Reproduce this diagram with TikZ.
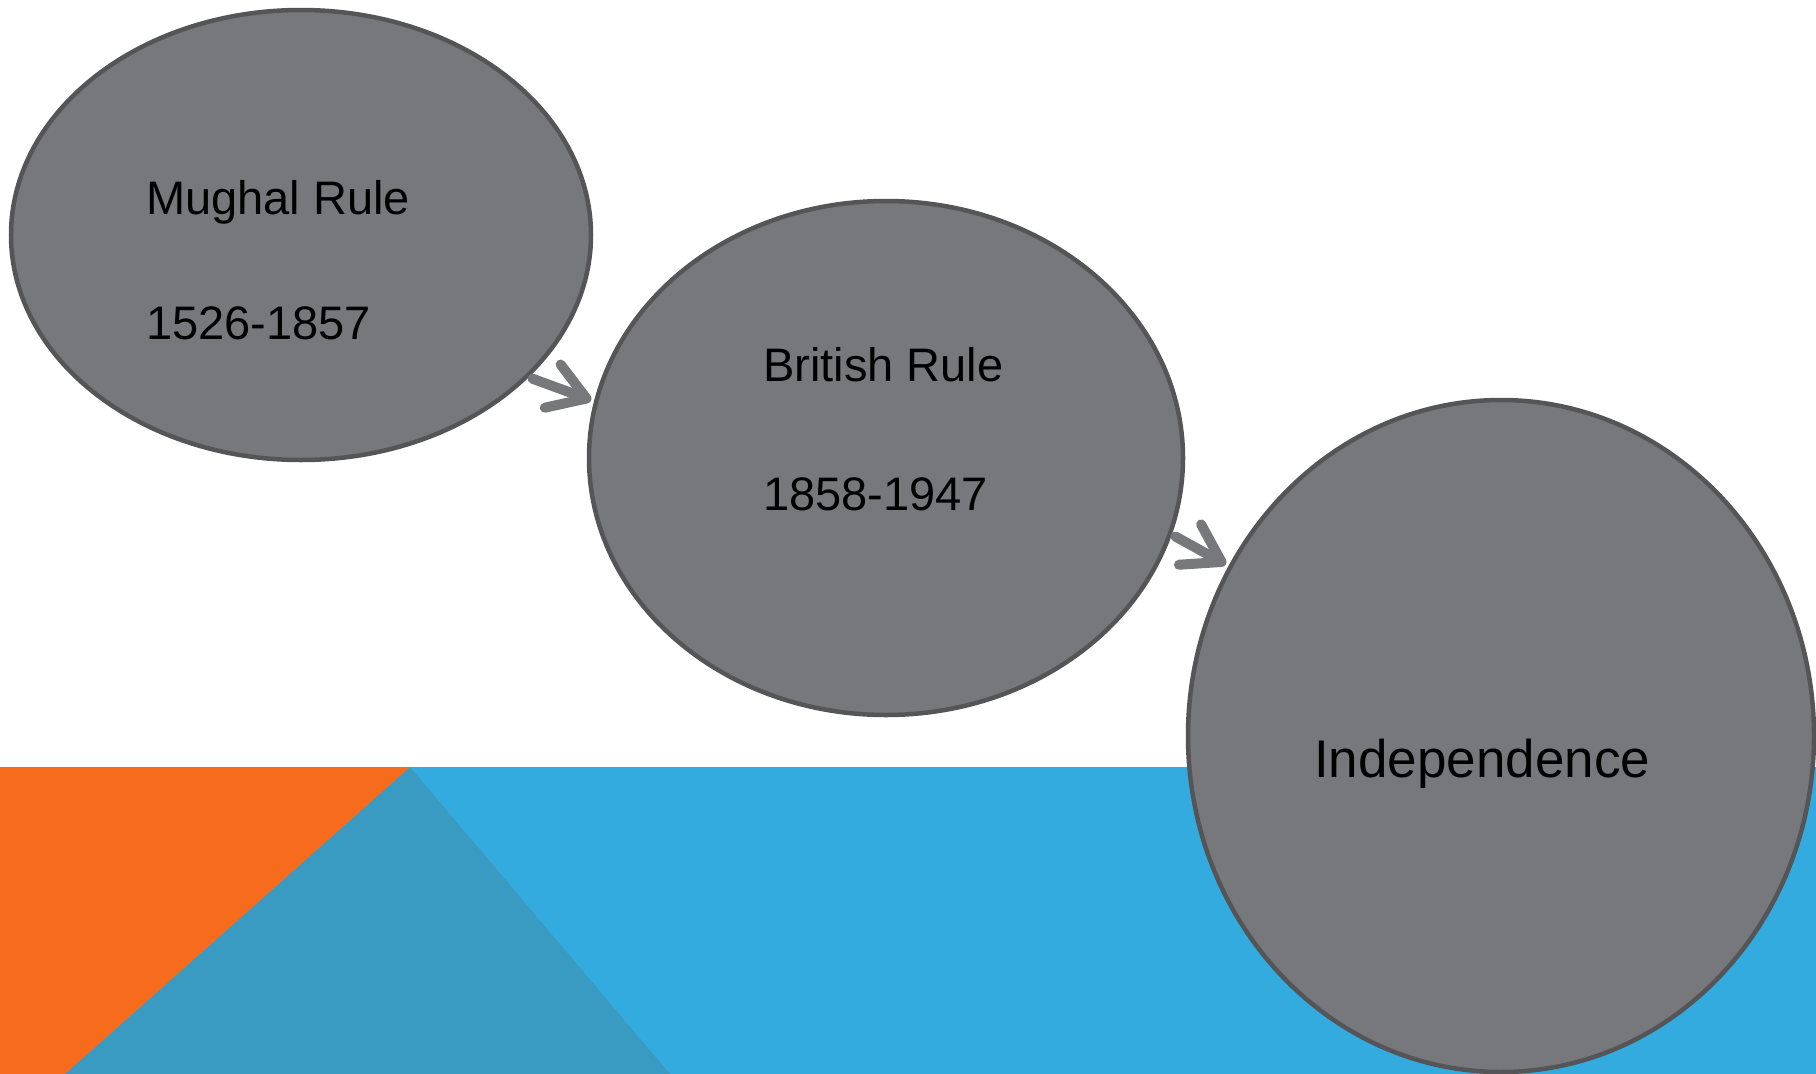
\documentclass[tikz,border=0pt]{standalone}
\usepackage{fontspec}
\setmainfont{Liberation Sans}
\usetikzlibrary{shapes.geometric,arrows.meta}
\definecolor{ellfill}{HTML}{77787C}
\definecolor{ellline}{HTML}{555557}
\definecolor{orng}{HTML}{F76B1C}
\definecolor{blu}{HTML}{34ABDF}
\definecolor{bludark}{HTML}{3A9BC2}
\begin{document}
\begin{tikzpicture}[x=1pt,y=-1pt,
  bubble/.style={ellipse,draw=ellline,fill=ellfill,line width=4.5pt,inner sep=0pt},
  label/.style={anchor=base west,inner sep=0pt,text=black},
  flow/.style={draw=ellfill,line width=10pt,line cap=round,line join=round,shorten >=3pt,shorten <=4pt,
    -{Straight Barb[length=36pt,width=46pt,line cap=round,line join=round]}}]
\useasboundingbox (0,0) rectangle (1816,1074);
\fill[white] (0,0) rectangle (1816,1074);
% background band
\fill[blu] (0,767) rectangle (1816,1074);
\fill[bludark] (410,767) -- (670,1074) -- (65,1074) -- cycle;
\fill[orng] (0,767) -- (410,767) -- (65,1074) -- (0,1074) -- cycle;
% ellipses
\node[bubble,minimum width=580pt,minimum height=450pt] (m) at (301,235) {};
\node[bubble,minimum width=594pt,minimum height=514pt] (b) at (886,458) {};
\node[bubble,minimum width=626pt,minimum height=672pt] (i) at (1501,736) {};
% texts
\node[label,font=\fontsize{47}{56}\selectfont] (mt1) at (146,214) {Mughal Rule};
\node[label,font=\fontsize{47}{56}\selectfont] (mt2) at (146,339) {1526-1857};
\node[label,font=\fontsize{47}{56}\selectfont] (bt1) at (763,381) {British Rule};
\node[label,font=\fontsize{47}{56}\selectfont] (bt2) at (763,510) {1858-1947};
\node[label,font=\fontsize{53}{62}\selectfont] (it) at (1314,777) {Independence};
% arrows
\draw[flow] (m.-32) -- (b.169);
\draw[flow] (b.-15) -- (i.148);
\end{tikzpicture}
\end{document}
